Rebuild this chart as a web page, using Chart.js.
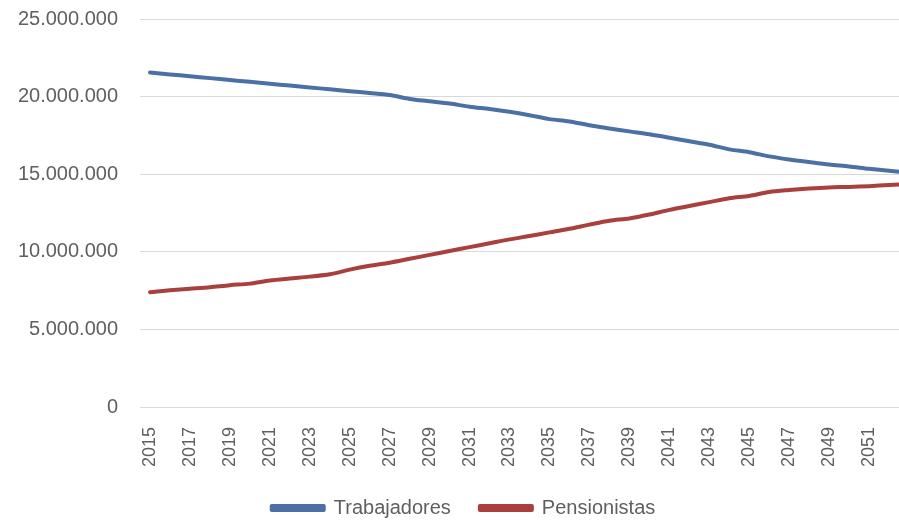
<!DOCTYPE html>
<html>
<head>
<meta charset="utf-8">
<script src="https://cdn.jsdelivr.net/npm/chart.js@4"></script>
<style>
  html, body { margin: 0; padding: 0; background: #ffffff; overflow: hidden; }
  #wrap { width: 899px; height: 521px; overflow: hidden; }
</style>
</head>
<body>
<div id="wrap"><canvas id="c" width="919" height="521"></canvas></div>
<script>
const years = ['2015','2016','2017','2018','2019','2020','2021','2022','2023','2024',
  '2025','2026','2027','2028','2029','2030','2031','2032','2033','2034',
  '2035','2036','2037','2038','2039','2040','2041','2042','2043','2044',
  '2045','2046','2047','2048','2049','2050','2051','2052','2053'];

const trabajadores = [21550000,21430000,21310000,21190000,21070000,20950000,20830000,20710000,20590000,20470000,
  20350000,20230000,20100000,19850000,19700000,19550000,19350000,19200000,19020000,18800000,
  18550000,18400000,18150000,17950000,17760000,17580000,17350000,17120000,16900000,16600000,
  16420000,16150000,15950000,15780000,15620000,15500000,15350000,15220000,15100000];

const pensionistas = [7400000,7520000,7620000,7720000,7850000,7950000,8150000,8280000,8400000,8550000,
  8850000,9100000,9300000,9550000,9800000,10050000,10300000,10550000,10800000,11020000,
  11250000,11480000,11750000,12000000,12150000,12400000,12700000,12950000,13200000,13450000,
  13600000,13850000,13980000,14080000,14150000,14180000,14230000,14300000,14360000];

const yTicks = [0, 5000000, 10000000, 15000000, 20000000, 25000000];
const seriesNames = ['Trabajadores', 'Pensionistas'];

const TEXT = '#5f5f5f';
const FONT = 'Liberation Sans';

function fmt(v) {
  return String(v).replace(/\B(?=(\d{3})+(?!\d))/g, '.');
}

const legendTweak = {
  id: 'legendTweak',
  beforeLayout(chart) {
    const lg = chart.legend;
    if (lg && !lg._patched) {
      const f = lg.fit.bind(lg);
      lg.fit = function () { f(); this.height = 52; };
      lg._patched = true;
    }
  },
  afterLayout(chart) {
    const lg = chart.legend;
    if (lg) { lg.left += 4; lg.right += 4; }
  }
};

new Chart(document.getElementById('c'), {
  type: 'line',
  data: {
    labels: years,
    datasets: [
      { label: seriesNames[0], data: trabajadores, borderColor: '#4B70A6', backgroundColor: '#4B70A6',
        borderWidth: 4, pointRadius: 0, tension: 0.3, borderCapStyle: 'round', borderJoinStyle: 'round' },
      { label: seriesNames[1], data: pensionistas, borderColor: '#A9403D', backgroundColor: '#A9403D',
        borderWidth: 4, pointRadius: 0, tension: 0.3, borderCapStyle: 'round', borderJoinStyle: 'round' }
    ]
  },
  options: {
    responsive: false,
    animation: false,
    layout: { padding: { top: 19, left: 0, right: 0, bottom: 0 } },
    plugins: {
      legend: {
        position: 'bottom',
        labels: {
          boxWidth: 52, boxHeight: 4, padding: 29,
          color: TEXT, font: { family: FONT, size: 20 }
        }
      },
      tooltip: { enabled: false }
    },
    scales: {
      x: {
        offset: true,
        grid: { display: false, drawTicks: false },
        border: { display: false },
        ticks: {
          autoSkip: false, maxRotation: 90, minRotation: 90, padding: 20,
          color: TEXT, font: { family: FONT, size: 18 },
          callback: function (value, index) {
            return (index % 2 === 0 && index < years.length - 1) ? years[index] : '';
          }
        },
        afterFit: function (s) { s.height = 62; s.paddingLeft = 0; s.paddingRight = 0; }
      },
      y: {
        min: 0, max: 25000000,
        afterBuildTicks: function (s) { s.ticks = yTicks.map(v => ({ value: v })); },
        grid: { color: '#d9d9d9', lineWidth: 1, drawTicks: false },
        border: { display: false },
        ticks: {
          padding: 22, color: TEXT, font: { family: FONT, size: 20 },
          callback: function (v) { return fmt(v); }
        },
        afterFit: function (s) { s.width = 140; s.paddingTop = 0; s.paddingBottom = 0; }
      }
    }
  },
  plugins: [legendTweak]
});
</script>
</body>
</html>
